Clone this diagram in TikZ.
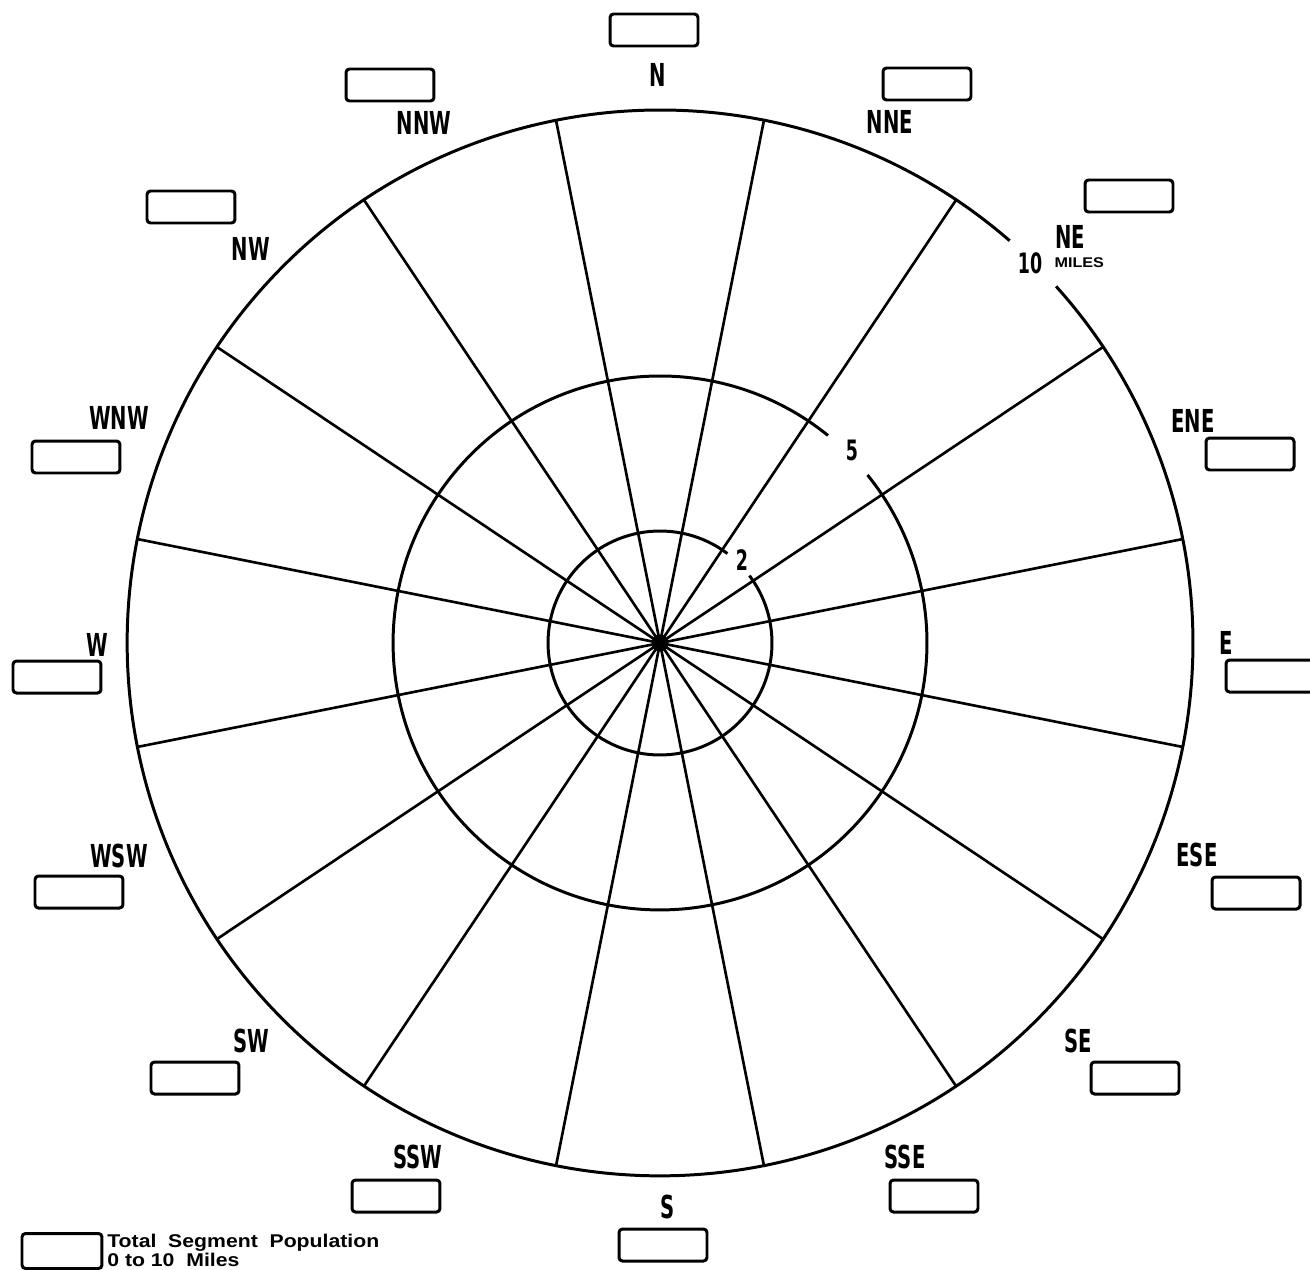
\documentclass[tikz,border=0pt]{standalone}
\usepackage{fontspec}
\setmainfont{Liberation Sans}
\newfontfamily\rotfont[FakeStretch=0.62]{DejaVu Sans}
\newfontfamily\legfont[FakeStretch=1.15]{Liberation Sans}
\usetikzlibrary{positioning}

\begin{document}
\begin{tikzpicture}[
      x=0.02cm, y=0.02cm,
      linha/.style={line width=1.7pt},
      caixa/.style={draw, line width=1.7pt, rounded corners=2pt,
                    minimum width=1.76cm, minimum height=0.64cm, inner sep=0pt},
      rotulo/.style={font=\rotfont\bfseries\fontsize{18}{18}\selectfont, inner sep=1pt},
      raio/.style={font=\rotfont\bfseries\fontsize{16}{16}\selectfont, inner sep=1pt}
    ]
    \useasboundingbox (-660,643) rectangle (650,-626);
    % rings (broken where the distances are written)
    \draw[linha] (49:533) arc[start angle=49, end angle=402, radius=10.66cm];
    \draw[linha] (51:267) arc[start angle=51, end angle=399, radius=5.34cm];
    \draw[linha] (53:112) arc[start angle=53, end angle=397, radius=2.24cm];
    % sector boundaries
    \coordinate (centro) at (0,0);
    \foreach \a in {0,...,15}
      \draw[line width=1.5pt] (centro) -- ({11.25+22.5*\a}:533);
    \fill (centro) circle (0.17cm);
    % distances
    \node[raio] (d2) at (82,83) {2};
    \node[raio] (d5) at (192,193) {5};
    \node[raio] (d10) at (370,380) {10};
    \node[font=\legfont\bfseries\fontsize{8}{8}\selectfont, right=2mm of d10.east, anchor=west,
          inner sep=0pt] (milhas) {MILES};
    % direction labels
    \node[rotulo] (l-n)   at (-2,568)    {N};
    \node[rotulo] (l-nne) at (230,521)   {NNE};
    \node[rotulo] (l-ne)  at (410,406)   {NE};
    \node[rotulo] (l-ene) at (533,222)   {ENE};
    \node[rotulo] (l-e)   at (566,0)     {E};
    \node[rotulo] (l-ese) at (537,-212)  {ESE};
    \node[rotulo] (l-se)  at (418,-398)  {SE};
    \node[rotulo] (l-sse) at (245,-514)  {SSE};
    \node[rotulo] (l-s)   at (8,-564)    {S};
    \node[rotulo] (l-ssw) at (-242,-514) {SSW};
    \node[rotulo] (l-sw)  at (-409,-398) {SW};
    \node[rotulo] (l-wsw) at (-541,-213) {WSW};
    \node[rotulo] (l-w)   at (-563,-2)   {W};
    \node[rotulo] (l-wnw) at (-541,225)  {WNW};
    \node[rotulo] (l-nw)  at (-409,394)  {NW};
    \node[rotulo] (l-nnw) at (-236,520)  {NNW};
    % population boxes
    \node[caixa] (c-n)   at (-6,613)    {};
    \node[caixa] (c-nne) at (267,559)   {};
    \node[caixa] (c-ne)  at (469,447)   {};
    \node[caixa] (c-ene) at (590,189)   {};
    \node[caixa] (c-e)   at (610,-33)   {};
    \node[caixa] (c-ese) at (596,-250)  {};
    \node[caixa] (c-se)  at (475,-435)  {};
    \node[caixa] (c-sse) at (274,-553)  {};
    \node[caixa] (c-s)   at (3,-602)    {};
    \node[caixa] (c-ssw) at (-264,-553) {};
    \node[caixa] (c-sw)  at (-465,-435) {};
    \node[caixa] (c-wsw) at (-581,-249) {};
    \node[caixa] (c-w)   at (-603,-34)  {};
    \node[caixa] (c-wnw) at (-584,186)  {};
    \node[caixa] (c-nw)  at (-469,436)  {};
    \node[caixa] (c-nnw) at (-270,558)  {};
    % legend
    \node[caixa, minimum width=1.6cm, minimum height=0.7cm] (c-leg) at (-598,-608) {};
    \node[font=\legfont\bfseries\fontsize{10.5}{10.8}\selectfont, align=left, anchor=west,
          inner sep=0pt] (leg) at (-553,-607)
      {Total~~Segment~~Population\\0~to~10~~Miles};
  \end{tikzpicture}
\end{document}
